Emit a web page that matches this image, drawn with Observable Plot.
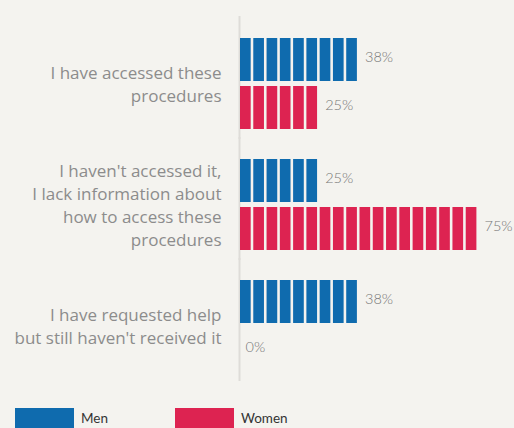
<!DOCTYPE html>
<html><head><meta charset="utf-8">
<script src="https://cdn.jsdelivr.net/npm/d3@7"></script>
<script src="https://cdn.jsdelivr.net/npm/@observablehq/plot@0.6"></script>
<style>
html,body{margin:0;padding:0;background:#f4f3ef;width:514px;height:428px;overflow:hidden;}
body{position:relative;}
#legend .sw{position:absolute;top:408px;width:59px;height:22px;}
#legend .lb{position:absolute;top:410px;font-family:Lato, sans-serif;font-size:13.5px;color:#333;}
</style></head><body>
<div id="chart"></div>
<div id="legend"></div>
<script>
const questions = [
  "I have accessed these\nprocedures",
  "I haven't accessed it,\nI lack information about\nhow to access these\nprocedures",
  "I have requested help\nbut still haven't received it"
];
const groups = ["Men", "Women"];
const menValues = [38, 25, 38];
const womenValues = [25, 75, 0];
const colors = ["#0f6bae", "#dd2351"];
const blockUnit = 100 / 24; // each block stands for 1/24 of respondents

const rows = questions.flatMap((q, i) => [
  {q, sex: "Men", value: menValues[i]},
  {q, sex: "Women", value: womenValues[i]}
]);
rows.forEach(r => { r.n = Math.round(r.value / blockUnit); });
const blocks = rows.flatMap(r => d3.range(r.n).map(k => ({q: r.q, sex: r.sex, x1: k * blockUnit, x2: (k + 1) * blockUnit})));

const chart = Plot.plot({
  width: 514,
  height: 400,
  marginLeft: 240,
  marginRight: 35,
  marginTop: 15,
  marginBottom: 20,
  style: {background: "transparent", overflow: "visible"},
  x: {domain: [0, 75], axis: null},
  y: {domain: groups, axis: null, paddingInner: 0.1, paddingOuter: 0},
  fy: {domain: questions, axis: null, paddingInner: 0.235, paddingOuter: 0.119, align: 0.72},
  color: {domain: groups, range: colors},
  marks: [
    Plot.ruleX([0], {stroke: "#dedcd8", strokeWidth: 2, dx: -1, insetTop: -21, insetBottom: -9}),
    Plot.barX(blocks, {x1: "x1", x2: "x2", y: "sex", fy: "q", fill: "sex", insetRight: 2.6}),
    Plot.text(rows, {
      x: d => d.n * blockUnit, y: "sex", fy: "q", text: d => d.value + "%",
      textAnchor: "start", dx: 5, dy: -3, fill: "#777", fontSize: 14.5, fontWeight: 300,
      fontFamily: "Lato, sans-serif"
    }),
    Plot.text(questions, {
      fy: d => d, text: d => d, frameAnchor: "left", textAnchor: "end", dx: -19, dy: -1,
      fill: "#8c8c8c", fontSize: 17, lineHeight: 1.35, fontFamily: "'Open Sans', sans-serif"
    })
  ]
});
document.getElementById("chart").appendChild(chart);

const legend = document.getElementById("legend");
const legendLeft = [15, 175];
groups.forEach((g, i) => {
  const sw = document.createElement("div");
  sw.className = "sw";
  sw.style.left = legendLeft[i] + "px";
  sw.style.background = colors[i];
  legend.appendChild(sw);
  const lb = document.createElement("div");
  lb.className = "lb";
  lb.style.left = (legendLeft[i] + 66) + "px";
  lb.textContent = g;
  legend.appendChild(lb);
});
</script>
</body></html>
